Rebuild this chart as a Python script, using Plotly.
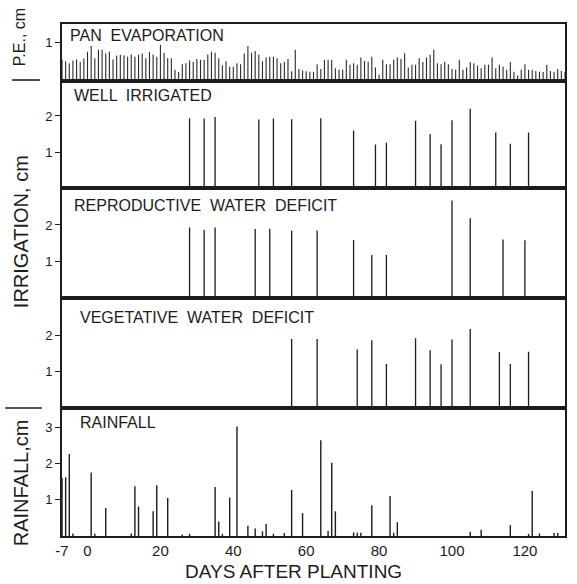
import plotly.graph_objects as go
from plotly.subplots import make_subplots

# ---------------- data ----------------
pe_days = list(range(-7, 132))
pe_vals = [0.55, 0.50, 0.45, 0.52, 0.55, 0.48, 0.57, 0.75, 0.90, 0.58, 0.80, 0.80, 0.70, 0.75,
           0.55, 0.65, 0.67, 0.65, 0.62, 0.68, 0.62, 0.67, 0.70, 0.58, 0.74, 0.68, 0.62, 0.93,
           0.72, 0.58, 0.58, 0.28, 0.22, 0.42, 0.45, 0.52, 0.48, 0.56, 0.54, 0.54, 0.68, 0.75,
           0.72, 0.58, 0.40, 0.50, 0.36, 0.36, 0.45, 0.42, 0.70, 0.90, 0.72, 0.77, 0.68, 0.50,
           0.60, 0.62, 0.62, 0.58, 0.45, 0.48, 0.56, 0.24, 0.80, 0.30, 0.27, 0.24,
           0.23, 0.23, 0.42, 0.30, 0.54, 0.54, 0.54, 0.32, 0.28, 0.28, 0.54, 0.41, 0.45, 0.41,
           0.60, 0.51, 0.49, 0.62, 0.34, 0.15, 0.54, 0.42, 0.42, 0.54, 0.60, 0.56, 0.71, 0.34,
           0.41, 0.41, 0.58, 0.48, 0.60, 0.67, 0.81, 0.45, 0.42, 0.49, 0.42, 0.30, 0.28, 0.54,
           0.28, 0.34, 0.48, 0.45, 0.39, 0.32, 0.41, 0.41, 0.60, 0.32, 0.41, 0.36, 0.28, 0.48,
           0.23, 0.13, 0.28, 0.42, 0.28, 0.28, 0.25, 0.23, 0.22, 0.41, 0.25, 0.23, 0.30, 0.25,
           0.22]

wi_days = [28, 32, 35, 47, 51, 56, 64, 73, 79, 82, 90, 94, 97, 100, 105, 112, 116, 121]
wi_vals = [1.94, 1.93, 1.97, 1.90, 1.93, 1.91, 1.94, 1.60, 1.21, 1.26, 1.87, 1.50, 1.22,
           1.88, 2.20, 1.54, 1.23, 1.54]

rwd_days = [28, 32, 35, 46, 50, 56, 63, 73, 78, 82, 100, 105, 114, 120]
rwd_vals = [1.93, 1.86, 1.93, 1.89, 1.90, 1.84, 1.85, 1.59, 1.18, 1.18, 2.67, 2.18, 1.60, 1.58]

vwd_days = [56, 63, 74, 78, 82, 90, 94, 97, 100, 105, 113, 116, 121]
vwd_vals = [1.91, 1.91, 1.62, 1.88, 1.22, 1.93, 1.60, 1.21, 1.90, 2.19, 1.55, 1.22, 1.56]

rain_days = [-7, -6, -5, -4, 1, 2, 5, 12, 13, 14, 18, 19, 22, 26, 28, 35, 36, 37, 39, 41,
             44, 46, 48, 49, 51, 54, 56, 59, 64, 66, 67, 68, 73, 74, 75, 78, 83, 84, 85,
             105, 108, 116, 121, 122, 124, 128, 129]
rain_vals = [1.60, 1.62, 2.26, 0.07, 1.75, 0.06, 0.77, 0.07, 1.37, 0.81, 0.68, 1.40, 1.05,
             0.04, 0.06, 1.35, 0.40, 0.06, 1.06, 3.02, 0.28, 0.21, 0.13, 0.33, 0.06, 0.08,
             1.27, 0.63, 2.64, 0.14, 2.02, 0.68, 0.10, 0.09, 0.09, 0.85, 1.10, 0.09, 0.38,
             0.12, 0.17, 0.30, 0.06, 1.24, 0.07, 0.08, 0.08]

x_tickvals = [-7, 0, 20, 40, 60, 80, 100, 120, 131]
x_ticktext = ["-7", "0", "20", "40", "60", "80", "100", "120", "131"]

panel_titles = ["PAN  EVAPORATION", "WELL  IRRIGATED", "REPRODUCTIVE  WATER  DEFICIT",
                "VEGETATIVE  WATER  DEFICIT", "RAINFALL"]

# ---------------- figure ----------------
FONT = "Liberation Sans"
INK = "#1c1c1c"


def stems(days, vals):
    xs, ys = [], []
    for d, v in zip(days, vals):
        xs += [d, d, None]
        ys += [0, v, None]
    return xs, ys


fig = make_subplots(rows=5, cols=1, shared_xaxes=True, vertical_spacing=0)

series = [(pe_days, pe_vals, 1.1, "#2a2a2a"),
          (wi_days, wi_vals, 1.3, INK),
          (rwd_days, rwd_vals, 1.3, INK),
          (vwd_days, vwd_vals, 1.3, INK),
          (rain_days, rain_vals, 1.4, INK)]
for i, (d, v, w, c) in enumerate(series, start=1):
    xs, ys = stems(d, v)
    fig.add_trace(go.Scatter(x=xs, y=ys, mode="lines", line=dict(color=c, width=w),
                             showlegend=False, hoverinfo="skip"), row=i, col=1)

domains = [[0.8896, 1.0], [0.6791, 0.8896], [0.4643, 0.6791], [0.25, 0.4643], [0.0, 0.25]]
yranges = [[0, 1.47], [0, 2.98], [0, 3.0], [0, 3.04], [0, 3.53]]
yticks = [[1], [1, 2], [1, 2], [1, 2], [1, 2, 3]]

for i in range(5):
    fig.update_yaxes(row=i + 1, col=1, domain=domains[i], range=yranges[i],
                     tickvals=yticks[i], ticktext=[str(t) for t in yticks[i]],
                     ticks="outside", ticklen=5, tickwidth=1.3, tickcolor=INK,
                     showline=True, mirror=True, linecolor=INK, linewidth=1.6,
                     showgrid=False, zeroline=False,
                     tickfont=dict(family=FONT, size=13, color=INK))
    fig.update_xaxes(row=i + 1, col=1, range=[-7, 131], showline=True, mirror=True,
                     linecolor=INK, linewidth=1.6, showgrid=False, zeroline=False,
                     ticks="", tickvals=x_tickvals, ticktext=x_ticktext,
                     showticklabels=(i == 4),
                     tickfont=dict(family=FONT, size=15, color=INK))

# panel titles
title_pos = [(0.012, 0.9766), (0.0198, 0.861), (0.0198, 0.645), (0.0317, 0.4264), (0.0317, 0.2213)]
for t, (xp, yp) in zip(panel_titles, title_pos):
    fig.add_annotation(text=t, xref="paper", yref="paper", x=xp, y=yp, xanchor="left",
                       yanchor="middle", showarrow=False,
                       font=dict(family=FONT, size=16, color=INK))

# y-axis group titles
ylab = dict(xref="paper", yref="paper", textangle=-90, showarrow=False,
            xanchor="center", yanchor="middle")
fig.add_annotation(text="P.E., cm", x=-0.085, y=0.9746,
                   font=dict(family=FONT, size=16, color=INK), **ylab)
fig.add_annotation(text="IRRIGATION, cm", x=-0.081, y=0.594,
                   font=dict(family=FONT, size=20, color=INK), **ylab)
fig.add_annotation(text="RAINFALL,cm", x=-0.081, y=0.1035,
                   font=dict(family=FONT, size=20, color=INK), **ylab)
fig.add_annotation(text="DAYS AFTER PLANTING", xref="paper", yref="paper", x=0.461, y=-0.0703,
                   xanchor="center", yanchor="middle", showarrow=False,
                   font=dict(family=FONT, size=19, color=INK))

# separators between the y-label groups
fig.add_shape(type="line", xref="paper", yref="paper", x0=-0.099, x1=-0.044,
              y0=0.8906, y1=0.8906, line=dict(color=INK, width=1.6))
fig.add_shape(type="line", xref="paper", yref="paper", x0=-0.113, x1=-0.040,
              y0=0.25, y1=0.25, line=dict(color=INK, width=1.6))

fig.update_layout(width=577, height=584, margin=dict(l=62, r=10, t=24, b=48),
                  plot_bgcolor="white", paper_bgcolor="white",
                  font=dict(family=FONT, color=INK))

fig.write_html("out.html")
